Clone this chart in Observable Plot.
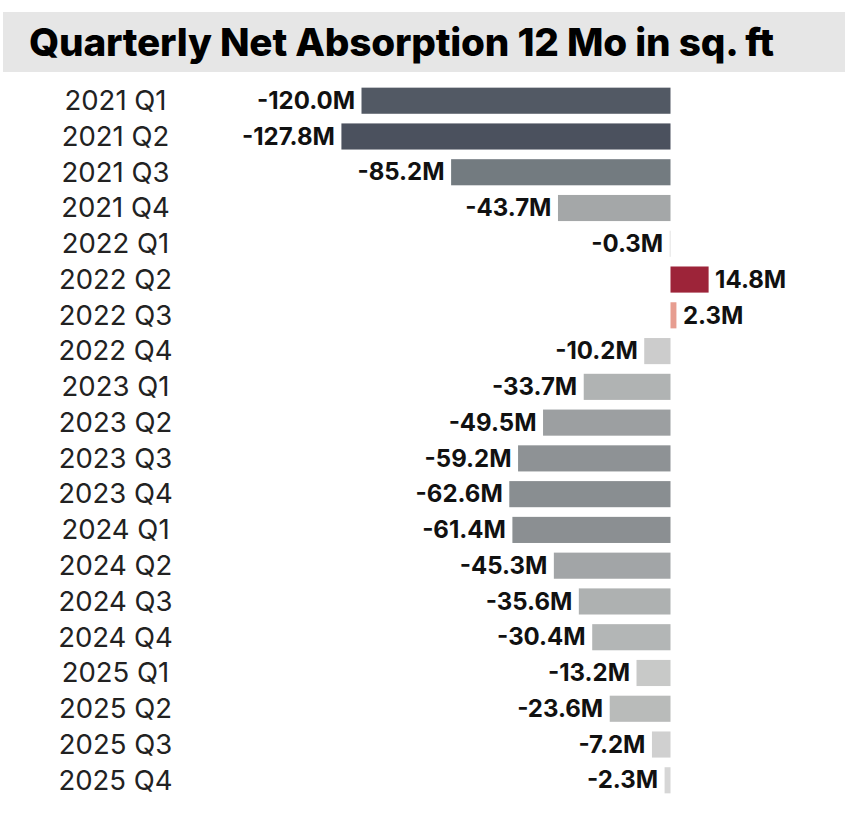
<!DOCTYPE html>
<html>
<head>
<meta charset="utf-8">
<script src="https://cdn.jsdelivr.net/npm/d3@7"></script>
<script src="https://cdn.jsdelivr.net/npm/@observablehq/plot@0.6"></script>
<style>
  html, body { margin: 0; padding: 0; background: #fff; }
  #title {
    position: absolute; left: 3px; top: 12px; width: 842px; height: 60px;
    background: #e6e6e6; box-sizing: border-box; padding-left: 26px;
    font-family: Inter, "Open Sans", sans-serif; font-weight: 800; font-size: 38.7px;
    line-height: 60px; color: #000; letter-spacing: -0.2px; white-space: nowrap;
  }
  #chart { position: absolute; left: 0; top: 76px; }
</style>
</head>
<body>
<div id="title">Quarterly Net Absorption 12 Mo in sq. ft</div>
<div id="chart"></div>
<script>
const quarters = ["2021 Q1","2021 Q2","2021 Q3","2021 Q4","2022 Q1","2022 Q2","2022 Q3","2022 Q4","2023 Q1","2023 Q2","2023 Q3","2023 Q4","2024 Q1","2024 Q2","2024 Q3","2024 Q4","2025 Q1","2025 Q2","2025 Q3","2025 Q4"];
const absorption = [-120.0,-127.8,-85.2,-43.7,-0.3,14.8,2.3,-10.2,-33.7,-49.5,-59.2,-62.6,-61.4,-45.3,-35.6,-30.4,-13.2,-23.6,-7.2,-2.3];

const data = quarters.map((q, i) => ({quarter: q, value: absorption[i]}));
const neg = data.filter(d => d.value < 0);
const pos = data.filter(d => d.value >= 0);
const fmt = d => d.value.toFixed(1) + "M";

const chart = Plot.plot({
  width: 848,
  height: 730,
  marginLeft: 310,
  marginRight: 126,
  marginTop: 2,
  marginBottom: 3,
  x: {domain: [-140, 20], axis: null},
  y: {domain: quarters, padding: 0.27, round: false, label: null},
  color: {
    type: "linear",
    domain: [-128, -85, -62, -45, -33, -23, -13, -0.001, 0.001, 15],
    range: ["#4b515e", "#737b80", "#8a8e91", "#a2a5a7", "#b1b4b4", "#b9bbba", "#c8c9c8", "#d9d9d9", "#f5b3a0", "#9c2238"],
    interpolate: "rgb"
  },
  style: {fontFamily: "Inter, 'Open Sans', sans-serif"},
  marks: [
    Plot.barX(data, {x: "value", y: "quarter", fill: "value"}),
    Plot.ruleX([0], {stroke: "#bbb", strokeDasharray: "1,2", y1: quarters[0], y2: quarters[quarters.length-1], insetTop: -16, insetBottom: -16}),
    Plot.text(neg, {x: "value", y: "quarter", text: fmt, textAnchor: "end", dx: -7, fontWeight: 700, fontSize: 24, fill: "#111", style: "letter-spacing:0.4px"}),
    Plot.text(pos, {x: "value", y: "quarter", text: fmt, textAnchor: "start", dx: 6, fontWeight: 700, fontSize: 24, fill: "#111", style: "letter-spacing:0.4px"}),
    Plot.axisY({tickSize: 0, textAnchor: "middle", dx: -186, fontSize: 27.5, fill: "#222", label: null})
  ]
});
document.getElementById("chart").appendChild(chart);
</script>
</body>
</html>
